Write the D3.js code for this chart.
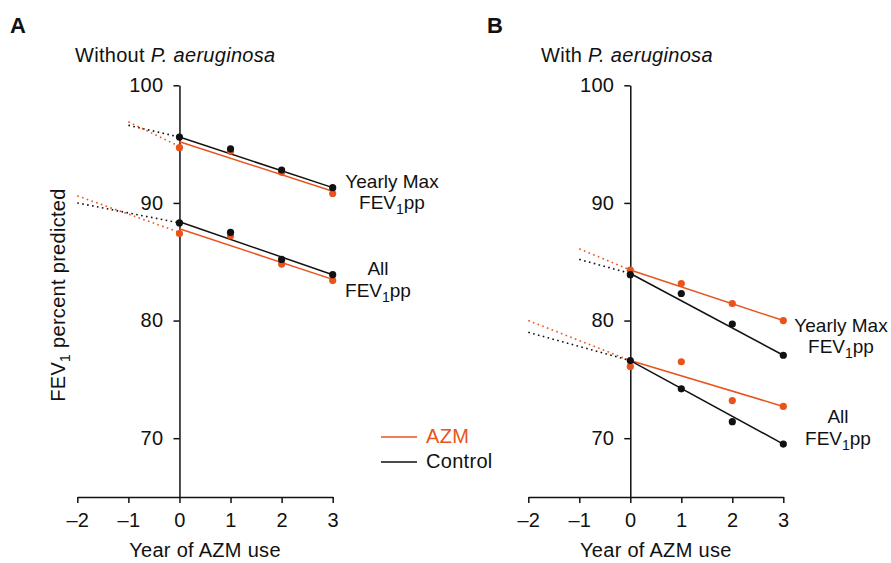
<!DOCTYPE html>
<html lang="en">
<head>
    <meta charset="UTF-8">
    <title>FEV1 by year of AZM use</title>
    <style>
        body { margin: 0; background: white; }
        svg text { font-family: "Liberation Sans", Arial, sans-serif; font-size: 20px; letter-spacing: 0.3px; fill: #111; }
        .panel-letter { font-size: 22px; font-weight: bold; letter-spacing: 0; }
        .series-label { font-size: 19px; letter-spacing: 0; }
        .axis path, .axis line { stroke: #111; stroke-width: 1.5; }
        .axis text { font-size: 20px; }
    </style>
    <script src="https://d3js.org/d3.v7.min.js"></script>
</head>
<body>
<div id="chart"></div>
<script>
    // data
    var years = [0, 1, 2, 3];
    var xTicks = [-2, -1, 0, 1, 2, 3];
    var yTicks = [70, 80, 90, 100];

    // panel A - without P. aeruginosa
    var aMaxControl = [95.6, 94.6, 92.8, 91.3];
    var aMaxAzm = [94.7, 94.4, 92.6, 90.8];
    var aAllControl = [88.3, 87.5, 85.2, 83.9];
    var aAllAzm = [87.4, 87.2, 84.8, 83.4];
    var aMaxControlFit = [95.6, 91.3];
    var aMaxAzmFit = [95.2, 91.0];
    var aAllControlFit = [88.4, 83.9];
    var aAllAzmFit = [87.8, 83.5];
    // pre-period trends [start year, start value, value at 0]
    var aMaxControlPre = [-1, 96.6, 95.6];
    var aMaxAzmPre = [-1, 96.9, 94.8];
    var aAllControlPre = [-2, 90.0, 88.3];
    var aAllAzmPre = [-2, 90.6, 87.5];

    // panel B - with P. aeruginosa
    var bMaxControl = [83.9, 82.3, 79.7, 77.05];
    var bMaxAzm = [84.3, 83.15, 81.45, 80.0];
    var bAllControl = [76.6, 74.2, 71.4, 69.5];
    var bAllAzm = [76.1, 76.5, 73.2, 72.7];
    var bMaxControlFit = [84.0, 77.05];
    var bMaxAzmFit = [84.3, 80.0];
    var bAllControlFit = [76.6, 69.5];
    var bAllAzmFit = [76.6, 72.7];
    var bMaxControlPre = [-1, 85.2, 84.0];
    var bMaxAzmPre = [-1, 86.1, 84.3];
    var bAllControlPre = [-2, 79.0, 76.6];
    var bAllAzmPre = [-2, 80.0, 76.6];

    var width = 891, height = 563;
    var orange = "#e8541c";
    var black = "#111111";

    var svg = d3.select("#chart").append("svg")
        .attr("width", width)
        .attr("height", height);

    var yScale = d3.scaleLinear().domain([65, 100]).range([497, 85.3]);

    function subLabel(g, x, y, first) {
        // two line label, second line is FEV1pp with subscript
        g.append("text").attr("class", "series-label").attr("x", x).attr("y", y[0]).attr("text-anchor", "middle").text(first);
        var t2 = g.append("text").attr("class", "series-label").attr("x", x).attr("y", y[1]).attr("text-anchor", "middle");
        t2.append("tspan").text("FEV");
        t2.append("tspan").attr("dy", 5).style("font-size", "14px").text("1");
        t2.append("tspan").attr("dy", -5).text("pp");
    }

    function drawPanel(opts) {
        var g = svg.append("g");
        var xScale = d3.scaleLinear().domain([-2, 3]).range(opts.xRange);

        g.append("g")
            .attr("class", "axis")
            .attr("transform", "translate(0," + yScale(65) + ")")
            .call(d3.axisBottom(xScale).tickValues(xTicks).tickSize(6).tickSizeOuter(0).tickPadding(10)
                .tickFormat(function(d) { return d < 0 ? "\u2013" + Math.abs(d) : String(d); }));

        g.append("g")
            .attr("class", "axis")
            .attr("transform", "translate(" + xScale(0) + ",0)")
            .call(d3.axisLeft(yScale).tickValues(yTicks).tickSize(6).tickSizeOuter(0).tickPadding(10));

        // pre-period dotted trends
        opts.pre.forEach(function(p) {
            g.append("line")
                .attr("x1", xScale(p.v[0])).attr("y1", yScale(p.v[1]))
                .attr("x2", xScale(0)).attr("y2", yScale(p.v[2]))
                .attr("stroke", p.color)
                .attr("stroke-width", 1.6)
                .attr("stroke-dasharray", "1.6 3.4");
        });

        // fitted lines
        opts.fits.forEach(function(f) {
            g.append("line")
                .attr("x1", xScale(0)).attr("y1", yScale(f.v[0]))
                .attr("x2", xScale(3)).attr("y2", yScale(f.v[1]))
                .attr("stroke", f.color)
                .attr("stroke-width", 1.5);
        });

        // observed points
        opts.points.forEach(function(s) {
            g.selectAll(null)
                .data(s.v)
                .enter()
                .append("circle")
                .attr("cx", function(d, i) { return xScale(years[i]); })
                .attr("cy", function(d) { return yScale(d); })
                .attr("r", 3.6)
                .attr("fill", s.color);
        });

        g.append("text").attr("class", "panel-letter").attr("x", opts.letterX).attr("y", 33).text(opts.letter);
        var title = g.append("text").attr("x", opts.titleX).attr("y", 62);
        title.append("tspan").text(opts.title + " ");
        title.append("tspan").style("font-style", "italic").text("P. aeruginosa");

        g.append("text")
            .attr("x", xScale(0.5))
            .attr("y", 557)
            .attr("text-anchor", "middle")
            .text("Year of AZM use");

        subLabel(g, opts.maxLabel[0], [opts.maxLabel[1], opts.maxLabel[2]], "Yearly Max");
        subLabel(g, opts.allLabel[0], [opts.allLabel[1], opts.allLabel[2]], "All");
    }

    drawPanel({
        xRange: [77.3, 332.7],
        letter: "A", letterX: 10,
        title: "Without", titleX: 75,
        pre: [
            {v: aMaxControlPre, color: black}, {v: aMaxAzmPre, color: orange},
            {v: aAllControlPre, color: black}, {v: aAllAzmPre, color: orange}
        ],
        fits: [
            {v: aMaxAzmFit, color: orange}, {v: aMaxControlFit, color: black},
            {v: aAllAzmFit, color: orange}, {v: aAllControlFit, color: black}
        ],
        points: [
            {v: aMaxAzm, color: orange}, {v: aAllAzm, color: orange},
            {v: aMaxControl, color: black}, {v: aAllControl, color: black}
        ],
        maxLabel: [392, 188, 209],
        allLabel: [378, 275, 297]
    });

    drawPanel({
        xRange: [528.3, 783.3],
        letter: "B", letterX: 487,
        title: "With", titleX: 541,
        pre: [
            {v: bMaxControlPre, color: black}, {v: bMaxAzmPre, color: orange},
            {v: bAllControlPre, color: black}, {v: bAllAzmPre, color: orange}
        ],
        fits: [
            {v: bMaxAzmFit, color: orange}, {v: bMaxControlFit, color: black},
            {v: bAllAzmFit, color: orange}, {v: bAllControlFit, color: black}
        ],
        points: [
            {v: bMaxAzm, color: orange}, {v: bAllAzm, color: orange},
            {v: bMaxControl, color: black}, {v: bAllControl, color: black}
        ],
        maxLabel: [841, 332, 353],
        allLabel: [838, 423, 445]
    });

    // y axis title
    var yTitle = svg.append("text")
        .attr("transform", "translate(65,295) rotate(-90)")
        .attr("text-anchor", "middle");
    yTitle.append("tspan").text("FEV");
    yTitle.append("tspan").attr("dy", 5).style("font-size", "14px").text("1");
    yTitle.append("tspan").attr("dy", -5).text(" percent predicted");

    // legend
    var legend = svg.append("g");
    [{name: "AZM", color: orange, y: 437}, {name: "Control", color: black, y: 462}].forEach(function(l) {
        legend.append("line")
            .attr("x1", 381).attr("x2", 417)
            .attr("y1", l.y).attr("y2", l.y)
            .attr("stroke", l.color).attr("stroke-width", 1.5);
        legend.append("text")
            .attr("x", 426).attr("y", l.y + 6)
            .style("fill", l.color)
            .text(l.name);
    });
</script>
</body>
</html>
